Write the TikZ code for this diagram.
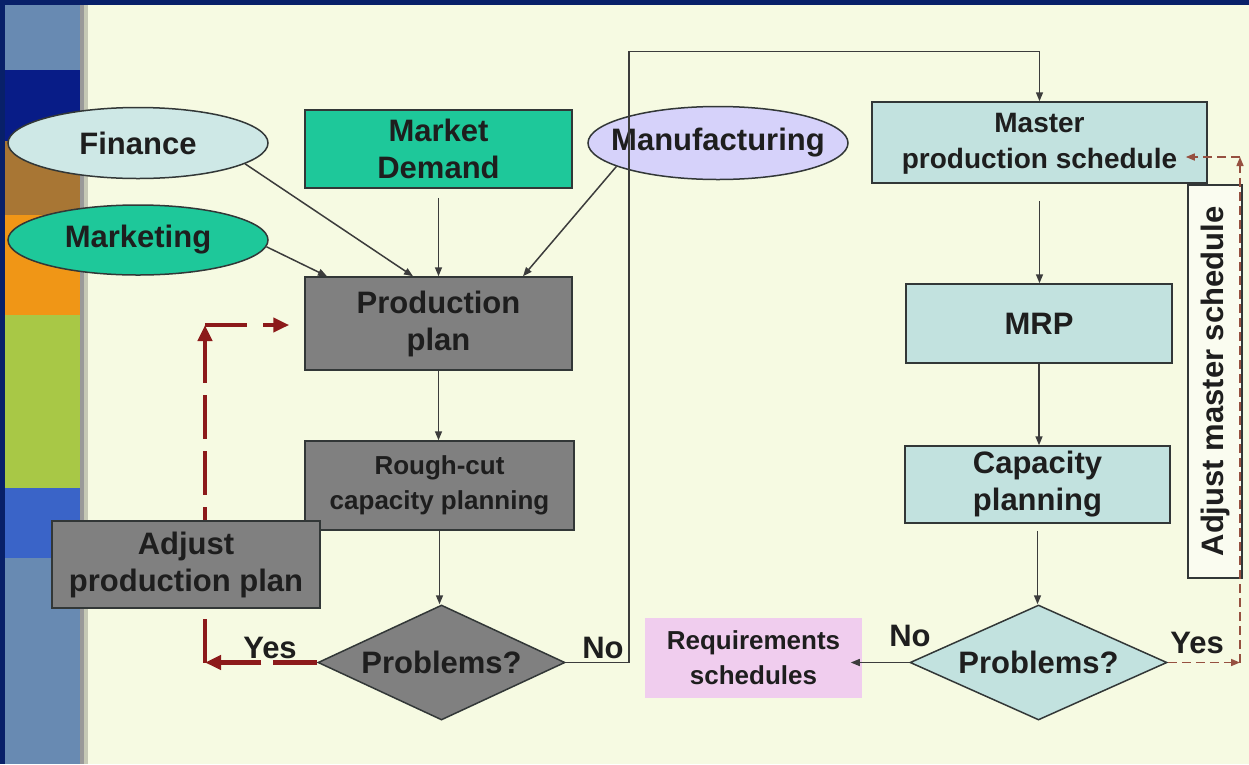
\documentclass[tikz,border=0pt]{standalone}
\usepackage{fontspec}
\setmainfont{Liberation Sans}
\usetikzlibrary{shapes.geometric,arrows.meta,calc}
\definecolor{framecol}{RGB}{8,32,105}
\definecolor{creamcol}{RGB}{246,250,226}
\definecolor{steelcol}{RGB}{104,138,178}
\definecolor{navycol}{RGB}{8,28,135}
\definecolor{browncol}{RGB}{168,118,52}
\definecolor{orangecol}{RGB}{240,150,22}
\definecolor{greencol}{RGB}{168,200,70}
\definecolor{bluecol}{RGB}{58,100,200}
\definecolor{finfill}{RGB}{206,232,230}
\definecolor{tealfill}{RGB}{30,200,154}
\definecolor{mfgfill}{RGB}{214,210,250}
\definecolor{greyfill}{RGB}{128,128,128}
\definecolor{lteal}{RGB}{194,226,223}
\definecolor{pinkfill}{RGB}{240,205,238}
\definecolor{bordercol}{RGB}{50,55,55}
\definecolor{textcol}{RGB}{30,30,30}
\definecolor{arrcol}{RGB}{60,60,60}
\definecolor{redcol}{RGB}{140,26,26}
\definecolor{browndash}{RGB}{150,80,64}
\newcommand\mybig{\fontsize{31}{37}\selectfont\bfseries}
\newcommand\mymid{\fontsize{28}{36}\selectfont\bfseries}
\newcommand\mysmall{\fontsize{26}{35}\selectfont\bfseries}
\tikzset{
  box/.style={draw=bordercol, line width=1.5pt, inner sep=0pt, align=center, font=\mybig, text=textcol},
  ell/.style={box, ellipse, inner xsep=-40pt, inner ysep=-12pt},
  dia/.style={box, diamond, aspect=2.15},
  arr/.style={draw=arrcol, line width=1.5pt, -{Triangle[length=9pt,width=7pt]}},
  reddash/.style={draw=redcol, line width=4.5pt, dash pattern=on 44pt off 12pt, -{Triangle[length=16pt,width=14pt]}},
  thindash/.style={draw=browndash, line width=1.5pt, dash pattern=on 9pt off 5pt, -{Triangle[length=9pt,width=7pt]}},
  lbl/.style={font=\mybig, text=textcol, inner sep=0pt}
}
\begin{document}
\begin{tikzpicture}[x=1pt,y=-1pt]
\useasboundingbox (0,0) rectangle (1249,764);
% background
\fill[framecol] (0,0) rectangle (1249,764);
\fill[creamcol] (88,5) rectangle (1249,764);
\fill[steelcol] (5,5) rectangle (80,70);
\fill[navycol] (5,70) rectangle (80,141);
\fill[browncol] (5,141) rectangle (80,215);
\fill[orangecol] (5,215) rectangle (80,315);
\fill[greencol] (5,315) rectangle (80,488);
\fill[bluecol] (5,488) rectangle (80,558);
\fill[steelcol] (5,558) rectangle (80,764);
\fill[black!40] (80,5) rectangle (84,764);
\fill[black!20!creamcol] (84,5) rectangle (88,764);
% red dashed vertical (behind the adjust box)
\coordinate (yl) at (205,662.5);
\coordinate (yu) at (205,325);
\draw[reddash] (yl) -- (yu);
% nodes
\node[ell, fill=finfill, minimum width=260, minimum height=71] (fin) at (138,143) {Finance};
\node[ell, fill=tealfill, minimum width=260, minimum height=70] (mkt) at (138,240) {Marketing};
\node[box, fill=tealfill, minimum width=267, minimum height=78] (md) at (438.5,149) {Market\\Demand};
\node[ell, fill=mfgfill, minimum width=260, minimum height=73] (mfg) at (718,143) {Manufacturing};
\node[box, fill=greyfill, minimum width=267, minimum height=93] (pp) at (438.5,323.5) {Production\\plan};
\node[box, fill=greyfill, minimum width=269, minimum height=89, font=\mysmall] (rc) at (439.5,485.5) {Rough-cut\\capacity planning};
\node[box, fill=greyfill, minimum width=268, minimum height=87] (apl) at (186,564.5) {Adjust\\production plan};
\node[dia, fill=greyfill, minimum width=247, minimum height=115] (prob1) at (441.5,662.5) {Problems?};
\node[box, fill=lteal, minimum width=335, minimum height=81, font=\mymid, text depth=4pt] (mps) at (1039.5,142.5) {Master\\production schedule};
\node[box, fill=lteal, minimum width=266, minimum height=79] (mrp) at (1039,323.5) {MRP};
\node[box, fill=lteal, minimum width=265, minimum height=77] (cap) at (1037.5,484.5) {Capacity\\planning};
\node[dia, fill=lteal, minimum width=257, minimum height=115] (prob2) at (1038.5,662.5) {Problems?};
\node[box, draw=none, fill=pinkfill, minimum width=217, minimum height=80, font=\mysmall] (req) at (753.5,658) {Requirements\\schedules};
\node[box, fill=creamcol!50!white, line width=1.2pt, rotate=90, minimum width=393, minimum height=54] (ams) at (1215,381.5) {Adjust master schedule};
% labels
\node[lbl] (yesl) at (270,648) {Yes};
\node[lbl] (nol) at (603,648) {No};
\node[lbl] (nor) at (910,636) {No};
\node[lbl] (yesr) at (1197,643) {Yes};
% connectors
\draw[arr] (fin.-11) -- ([xshift=-25.5pt]pp.north);
\draw[arr] (mkt.-3) -- ([xshift=-111.5pt]pp.north);
\draw[arr, shorten <=9pt] (md.south) -- (pp.north);
\draw[arr] (mfg.193) -- ([xshift=84.5pt]pp.north);
\draw[arr] (pp.south) -- (pp.south |- rc.north);
\draw[arr] (rc.south) -- (rc.south |- prob1.north);
\draw[draw=arrcol, line width=1.5pt, -{Triangle[length=9pt,width=7pt]}] (prob1.east) -- ++(63,0) |- ([yshift=50pt]mps.north) -- (mps.north);
\draw[arr, shorten <=17pt] (mps.south) -- (mps.south |- mrp.north);
\draw[arr] (mrp.south) -- (mrp.south |- cap.north);
\draw[arr, shorten <=7pt] (cap.south) -- (cap.south |- prob2.north);
\draw[arr] (prob2.west) -- ($(prob2.west -| req.east)+(-12,0)$);
% red dashed yes path
\draw[reddash] (prob1.west) -- (yl);
\draw[reddash, dash pattern=on 42pt off 16pt] (yu) -- ($(yu -| pp.west)+(-15,0)$);
% thin dashed yes path
\coordinate (yr1) at (1240,662.5);
\coordinate (yr2) at (1240,157);
\draw[thindash] (prob2.east) -- (yr1);
\draw[thindash] (yr1) -- (yr2);
\draw[thindash] (yr2) -- ($(yr2 -| mps.east)+(-22,0)$);
\end{tikzpicture}
\end{document}
